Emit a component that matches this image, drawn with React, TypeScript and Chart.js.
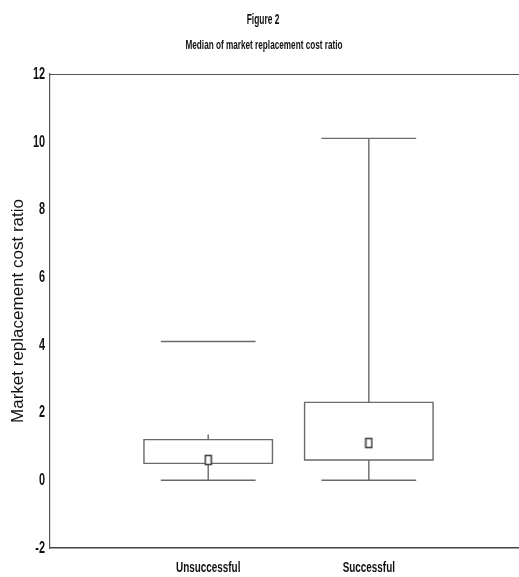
import React, { useEffect, useRef } from "react";
import { Chart, registerables } from "chart.js";

Chart.register(...registerables);

const categories = ["Unsuccessful", "Successful"];
const positions = [1, 2];
const lowerWhisker = [0.0, 0.0];
const q1 = [0.5, 0.6];
const medians = [0.6, 1.1];
const q3 = [1.2, 2.3];
const upperWhisker = [1.35, 10.1];
const maxLine = [4.1, 10.1];
const yTicks = [-2, 0, 2, 4, 6, 8, 10, 12];
const titleText = "Figure 2";
const subtitleText = "Median of market replacement cost ratio";
const yTitle = "Market replacement cost ratio";

const SANS = "'Liberation Sans', Arial, sans-serif";
const LINE = "#6a6a6a";

function condText(ctx: any, text: string, x: number, y: number, align: string, size: number, sx: number) {
  ctx.save();
  ctx.translate(x, y);
  ctx.scale(sx, 1);
  ctx.font = `bold ${size}px ${SANS}`;
  ctx.fillStyle = "#111";
  ctx.textAlign = align;
  ctx.textBaseline = "middle";
  ctx.fillText(text, 0, 0);
  ctx.restore();
}

function makeMarker() {
  const c = document.createElement("canvas");
  c.width = 9;
  c.height = 12;
  const g = c.getContext("2d")!;
  g.fillStyle = "#fff";
  g.fillRect(1, 1, 7, 10);
  g.strokeStyle = "#444";
  g.lineWidth = 1.6;
  g.strokeRect(1.5, 1.5, 6, 9);
  return c;
}

const textPlugin = {
  id: "textPlugin",
  afterDraw(chart: any) {
    const { ctx, scales } = chart;
    condText(ctx, titleText, 263, 20, "center", 14, 0.6);
    condText(ctx, subtitleText, 264, 45, "center", 13, 0.63);
    const ys = scales.y;
    for (const v of yTicks) {
      condText(ctx, String(v), 45, ys.getPixelForValue(v) + 0.5, "right", 16, 0.68);
    }
    const xs = scales.x;
    positions.forEach((p, i) => {
      condText(ctx, categories[i], xs.getPixelForValue(p), 568, "center", 15, 0.66);
    });
  },
};

const boxPlugin = {
  id: "boxPlugin",
  beforeDatasetsDraw(chart: any) {
    const { ctx, scales, chartArea } = chart;
    const xs = scales.x;
    const ys = scales.y;
    ctx.save();
    ctx.strokeStyle = "#555";
    ctx.lineWidth = 1.2;
    ctx.beginPath();
    ctx.moveTo(chartArea.left, chartArea.top + 0.5);
    ctx.lineTo(chartArea.right, chartArea.top + 0.5);
    ctx.stroke();

    ctx.strokeStyle = LINE;
    ctx.lineWidth = 1.4;
    const boxHalf = 0.4;
    const capHalf = 0.295;
    for (let i = 0; i < positions.length; i++) {
      const p = positions[i];
      const xl = xs.getPixelForValue(p - boxHalf);
      const xr = xs.getPixelForValue(p + boxHalf);
      const xc = xs.getPixelForValue(p);
      const cl = xs.getPixelForValue(p - capHalf);
      const cr = xs.getPixelForValue(p + capHalf);
      const yq1 = ys.getPixelForValue(q1[i]);
      const yq3 = ys.getPixelForValue(q3[i]);
      const ylo = ys.getPixelForValue(lowerWhisker[i]);
      const yup = ys.getPixelForValue(upperWhisker[i]);
      const ymax = ys.getPixelForValue(maxLine[i]);
      ctx.beginPath();
      ctx.rect(xl, yq3, xr - xl, yq1 - yq3);
      ctx.stroke();
      ctx.beginPath();
      ctx.moveTo(xc, yq1);
      ctx.lineTo(xc, ylo);
      ctx.moveTo(cl, ylo);
      ctx.lineTo(cr, ylo);
      ctx.moveTo(xc, yq3);
      ctx.lineTo(xc, yup);
      ctx.moveTo(cl, ymax);
      ctx.lineTo(cr, ymax);
      ctx.stroke();
    }
    ctx.restore();
  },
};

export default function App() {
  const ref = useRef<HTMLCanvasElement>(null);
  useEffect(() => {
    document.body.style.margin = "0";
    const chart = new Chart(ref.current!, {
      type: "scatter",
      data: {
        datasets: [
          {
            label: "Median",
            data: positions.map((p, i) => ({ x: p, y: medians[i] })),
            pointStyle: makeMarker() as any,
            pointRadius: 5,
          },
        ],
      },
      options: {
        animation: false,
        responsive: true,
        maintainAspectRatio: false,
        layout: { autoPadding: false, padding: { left: 8, right: 0, top: 74, bottom: 0 } },
        plugins: {
          legend: { display: false },
          tooltip: { enabled: false },
          title: { display: false },
        },
        scales: {
          x: {
            type: "linear",
            min: 0.015,
            max: 2.935,
            ticks: { display: false },
            grid: { display: false, drawTicks: false },
            border: { display: true, color: "#444", width: 1.5 },
            afterFit: (axis: any) => {
              axis.height = 29;
            },
          },
          y: {
            min: -2,
            max: 12,
            ticks: { display: false },
            grid: { display: false, drawTicks: false },
            border: { display: true, color: "#555", width: 1.2 },
            title: {
              display: true,
              text: yTitle,
              color: "#111",
              font: { family: SANS, size: 17 },
              padding: { top: 0, bottom: 0 },
            },
            afterFit: (axis: any) => {
              axis.width = 42;
            },
          },
        },
      },
      plugins: [boxPlugin, textPlugin],
    });
    return () => chart.destroy();
  }, []);
  return (
    <div style={{ width: 519, height: 577, position: "relative", background: "#fff" }}>
      <canvas ref={ref} />
    </div>
  );
}
